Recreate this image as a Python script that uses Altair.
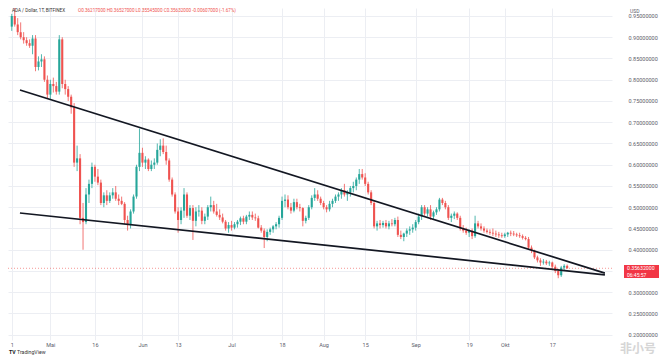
import json
import altair as alt
import pandas as pd

# ---------------- data ----------------
dates = [d.strftime("%Y-%m-%d") for d in pd.date_range("2022-04-18", "2022-10-22", freq="D")]

opens = [
    # Apr 18-30
    .925, .950, .930, .912, .900, .893, .886, .880, .897, .830, .843, .848, .800,
    # May
    .765, .790, .785, .772, .895, .790, .778, .760, .735, .605, .615, .475, .465, .530, .555, .595,
    .572, .558, .510, .528, .515, .528, .535, .520, .515, .508, .470, .458, .490, .525, .595,
    # Jun
    .628, .605, .612, .590, .600, .605, .635, .645, .630, .610, .565, .530, .490, .470, .492, .530,
    .480, .498, .468, .490, .492, .468, .478, .500, .505, .490, .482, .476, .466, .450,
    # Jul
    .458, .452, .460, .466, .474, .466, .478, .482, .476, .474, .452, .445, .430, .442, .448, .455,
    .460, .475, .515, .518, .500, .492, .512, .500, .498, .468, .475, .500, .522, .530, .520,
    # Aug
    .510, .500, .495, .508, .515, .525, .530, .540, .530, .535, .545, .550, .565, .578, .570, .555,
    .535, .510, .455, .462, .458, .463, .455, .462, .460, .470, .435, .430, .438, .445, .448,
    # Sep
    .452, .465, .478, .500, .485, .495, .478, .488, .495, .518, .510, .500, .475, .480, .485, .475,
    .450, .445, .440, .445, .432, .462, .455, .450, .445, .442, .440, .438, .436, .434,
    # Oct 1-22
    .432, .436, .440, .438, .436, .434, .432, .428, .425, .405, .398, .382, .375, .370, .372, .368,
    .370, .360, .350, .340, .358, .36217,
]
highs = [
    .955, .972, .945, .935, .912, .900, .895, .905, .905, .855, .860, .855, .810,
    .800, .805, .795, .905, .900, .800, .785, .765, .745, .645, .625, .510, .545, .565, .605, .600,
    .590, .565, .535, .540, .535, .545, .550, .530, .525, .512, .480, .495, .530, .600, .685,
    .640, .620, .615, .610, .615, .650, .660, .662, .645, .615, .570, .535, .500, .500, .545, .535,
    .505, .505, .500, .505, .500, .485, .505, .525, .515, .508, .495, .485, .470, .465,
    .468, .465, .470, .478, .480, .482, .490, .490, .485, .480, .458, .450, .448, .452, .458, .465,
    .480, .525, .530, .528, .510, .520, .520, .508, .500, .480, .505, .528, .545, .540, .525,
    .515, .505, .515, .520, .530, .535, .545, .555, .540, .550, .560, .570, .590, .590, .580, .560,
    .540, .515, .468, .470, .468, .470, .468, .472, .475, .478, .445, .440, .450, .455, .460,
    .470, .485, .505, .505, .500, .505, .492, .500, .522, .522, .515, .505, .485, .490, .488, .480,
    .458, .452, .448, .450, .480, .468, .462, .455, .450, .448, .450, .445, .442, .440,
    .440, .442, .445, .444, .440, .440, .436, .432, .430, .410, .400, .386, .380, .378, .376, .374,
    .372, .365, .355, .362, .366, .36527,
]
lows = [
    .915, .925, .905, .895, .885, .880, .875, .860, .820, .822, .830, .795, .755,
    .755, .770, .765, .765, .780, .765, .750, .720, .595, .585, .460, .400, .460, .510, .545, .560,
    .552, .505, .500, .505, .510, .520, .515, .505, .505, .460, .445, .450, .485, .520, .585,
    .595, .590, .585, .585, .590, .600, .620, .625, .600, .560, .525, .485, .440, .460, .475, .475,
    .470, .423, .455, .478, .460, .460, .470, .490, .485, .478, .470, .462, .445, .440,
    .445, .448, .452, .458, .460, .460, .470, .470, .468, .450, .440, .404, .420, .435, .440, .448,
    .452, .470, .500, .495, .485, .488, .495, .490, .455, .462, .470, .495, .515, .515, .505,
    .495, .488, .490, .500, .510, .515, .520, .525, .515, .525, .535, .540, .555, .565, .550, .530,
    .505, .450, .445, .450, .452, .450, .448, .455, .455, .430, .425, .420, .430, .435, .440,
    .445, .460, .470, .480, .478, .470, .470, .482, .490, .505, .495, .470, .465, .472, .470, .445,
    .440, .435, .430, .425, .428, .450, .445, .440, .438, .435, .432, .430, .428, .428,
    .428, .430, .432, .432, .430, .428, .424, .422, .400, .392, .378, .370, .362, .365, .364, .362,
    .355, .345, .333, .336, .350, .35545,
]
closes = [
    .950, .930, .912, .900, .893, .886, .880, .897, .830, .843, .848, .800, .765,
    .790, .785, .772, .895, .790, .778, .760, .735, .605, .615, .475, .465, .530, .555, .595, .572,
    .558, .510, .528, .515, .528, .535, .520, .515, .508, .470, .458, .490, .525, .595, .628,
    .605, .612, .590, .600, .605, .635, .645, .630, .610, .565, .530, .490, .470, .492, .530, .480,
    .498, .468, .490, .492, .468, .478, .500, .505, .490, .482, .476, .466, .450, .458,
    .452, .460, .466, .474, .466, .478, .482, .476, .474, .452, .445, .430, .442, .448, .455, .460,
    .475, .515, .518, .500, .492, .512, .500, .498, .468, .475, .500, .522, .530, .520, .510,
    .500, .495, .508, .515, .525, .530, .540, .530, .535, .545, .550, .565, .578, .570, .555, .535,
    .510, .455, .462, .458, .463, .455, .462, .460, .470, .435, .430, .438, .445, .448, .452,
    .465, .478, .500, .485, .495, .478, .488, .495, .518, .510, .500, .475, .480, .485, .475, .450,
    .445, .440, .445, .432, .462, .455, .450, .445, .442, .440, .438, .436, .434, .432,
    .436, .440, .438, .436, .434, .432, .428, .425, .405, .398, .382, .375, .370, .372, .368, .370,
    .360, .350, .340, .358, .36217, .35632,
]

tick_dates = ["2022-04-18", "2022-05-01", "2022-05-16", "2022-06-01", "2022-06-13", "2022-07-01",
              "2022-07-18", "2022-08-01", "2022-08-15", "2022-09-01", "2022-09-19", "2022-10-01",
              "2022-10-17"]
tick_labels = ["1", "Mai", "16", "Jun", "13", "Jul", "18", "Aug", "15", "Sep", "19", "Okt", "17"]
price_ticks = [0.20, 0.25, 0.30, 0.35, 0.40, 0.45, 0.50, 0.55, 0.60, 0.65, 0.70, 0.75, 0.80,
               0.85, 0.90, 0.95]
hidden_price_label = 0.35  # covered by the last-price tag

trend_dates = ["2022-04-20T18:00:00Z", "2022-11-03T17:00:00Z"]
upper_line = [0.776, 0.345]
lower_line = [0.4865, 0.341]

last_price = 0.35632
countdown = "06:45:57"
header_name = "ADA / Dollar, 1T, BITFINEX"
header_ohlc = "O0.36217000  H0.36527000  L0.35545000  C0.35632000  -0.00607000 (-1.67%)"
currency = "USD"
brand = "TradingView"
watermark = "非小号"

# ---------------- style ----------------
GREEN = "#26a69a"
RED = "#ef5350"
GRID = "#eceef3"
LABEL = "#5d606b"
W, H = 604, 332

df = pd.DataFrame({"date": dates, "open": opens, "high": highs, "low": lows, "close": closes})

tick_ms = [int(pd.Timestamp(d).value // 10**6) for d in tick_dates]
label_expr = f"{json.dumps(tick_labels)}[indexof({json.dumps(tick_ms)}, time(datum.value))]"
ylabel_expr = (f"abs(datum.value - {hidden_price_label}) < 1e-6 ? '' : "
               f"format(datum.value, '.8f')")

xscale = alt.Scale(type="utc", nice=False,
                   domain=[alt.DateTime(year=2022, month=4, date=18, hours=10, utc=True),
                           alt.DateTime(year=2022, month=11, date=4, hours=10, utc=True)])
yscale = alt.Scale(domain=[0.1876, 0.9688], nice=False, zero=False)

xaxis = alt.Axis(values=tick_ms, labelExpr=label_expr, title=None, domain=False, ticks=False,
                 grid=True, gridColor=GRID, gridWidth=1, labelFontSize=5.5, labelColor=LABEL,
                 labelPadding=2, labelFont="Roboto", labelOverlap=False, labelFlush=False)
yaxis = alt.Axis(orient="right", values=price_ticks, labelExpr=ylabel_expr, title=None,
                 domain=False, ticks=False, grid=True, gridColor=GRID, gridWidth=1,
                 labelFontSize=5.5, labelColor=LABEL, labelPadding=16, labelFont="Roboto",
                 labelAlign="left", labelOverlap=False, labelFlush=False)


def X(field):
    return alt.X(field, scale=xscale, axis=xaxis)


def Y(field):
    return alt.Y(field, scale=yscale, axis=yaxis)


color_cond = alt.condition("datum.open <= datum.close", alt.value(GREEN), alt.value(RED))

base = alt.Chart(df).encode(x=X("date:T"))
wicks = base.mark_rule(strokeWidth=0.8).encode(y=Y("low:Q"), y2="high:Q", color=color_cond)
bodies = base.mark_bar(size=2.1).encode(y=Y("open:Q"), y2="close:Q", color=color_cond)

trend_df = pd.DataFrame({
    "date": trend_dates * 2,
    "price": upper_line + lower_line,
    "line": ["upper", "upper", "lower", "lower"],
})
trends = alt.Chart(trend_df).mark_line(color="#131722", strokeWidth=1.7).encode(
    x=X("date:T"), y=Y("price:Q"), detail="line:N")

last_df = pd.DataFrame({"price": [last_price],
                        "top": [last_price + 0.0078], "bottom": [last_price - 0.0228],
                        "label": [f"{last_price:.8f}"], "timer": [countdown]})

price_line = alt.Chart(last_df).mark_rule(
    color=RED, strokeDash=[1, 2], strokeWidth=1, opacity=0.6).encode(y=Y("price:Q"))

box = alt.Chart(last_df).mark_rect(color="#f23645").encode(
    x=alt.value(W + 12), x2=alt.value(W + 47), y=Y("top:Q"), y2="bottom:Q")
box_price = alt.Chart(last_df).mark_text(
    color="white", fontSize=5.2, align="left", baseline="middle", font="Roboto").encode(
    x=alt.value(W + 15), y=Y("price:Q"), text="label:N")
box_time = alt.Chart(last_df).mark_text(
    color="white", fontSize=5.0, align="left", baseline="middle", font="Roboto", dy=6.5).encode(
    x=alt.value(W + 15), y=Y("price:Q"), text="timer:N")


def label(text, x, y, size, color, align="left", font="Roboto", weight="normal", baseline="middle"):
    return alt.Chart(pd.DataFrame({"t": [text]})).mark_text(
        fontSize=size, color=color, align=align, baseline=baseline, font=font, fontWeight=weight
    ).encode(x=alt.value(x), y=alt.value(y), text="t:N")


head1 = label(header_name, 4, 3, 4.6, "#333333")
head2 = label(header_ohlc, 70, 3, 4.6, RED)
usd = label(currency, W + 18, 3, 5, LABEL)
tv = label(brand, 9, 343.5, 5.2, "#333333")
tv_logo = label("TV", 1, 343.5, 5.2, "#131722", weight="bold")
wm = label(watermark, 630, 340.5, 12, "#d6d6d6", align="center", font="Noto Sans CJK SC",
           weight="bold")

chart = alt.layer(
    price_line, wicks, bodies, trends, box, box_price, box_time, head1, head2, usd, tv, tv_logo, wm
).properties(
    width=W, height=H,
    autosize=alt.AutoSizeParams(type="none"),
    padding={"left": 0, "top": 0, "right": 47, "bottom": 15},
    background="white",
).configure_view(strokeWidth=0)

chart.save("out.html", embed_options={"renderer": "svg", "actions": False})
